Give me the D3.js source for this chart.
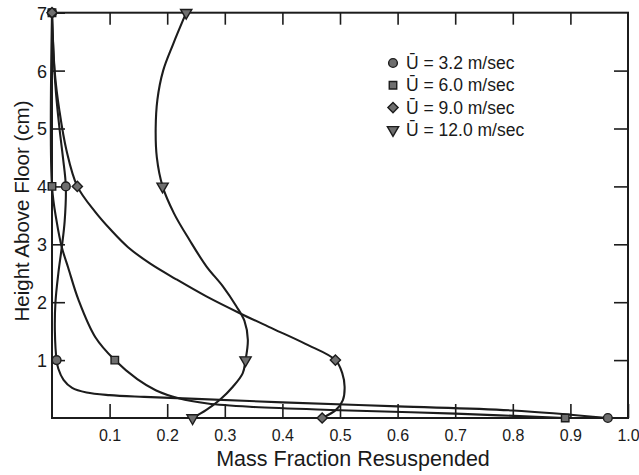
<!DOCTYPE html>
<html>
<head>
<meta charset="utf-8">
<script src="https://cdn.jsdelivr.net/npm/d3@7"></script>
<style>
  html, body { margin: 0; padding: 0; background: #fff; }
  text { font-family: "Liberation Sans", Arial, sans-serif; fill: #1a1a1a; }
</style>
</head>
<body>
<svg id="chart" width="639" height="475"></svg>
<script>
// ---- data ----
const heights = [0, 1, 4, 7];                 // measurement heights (cm)
const u32  = [0.965, 0.008, 0.024, 0.0];      // Ū = 3.2 m/sec
const u60  = [0.891, 0.109, 0.0, 0.0];        // Ū = 6.0 m/sec
const u90  = [0.469, 0.492, 0.044, 0.0];      // Ū = 9.0 m/sec
const u120 = [0.244, 0.336, 0.192, 0.233];    // Ū = 12.0 m/sec

// hand-drawn fitted curves: [mass fraction, height]
const curve32 = [[0.965,0],[0.8,0.13],[0.6,0.2],[0.4,0.27],[0.25,0.33],[0.16,0.365],[0.1,0.395],[0.06,0.44],[0.035,0.52],[0.02,0.66],[0.011,0.85],[0.008,1],[0.005,1.5],[0.006,2.0],[0.011,2.5],[0.017,2.95],[0.022,3.4],[0.024,4],[0.019,4.5],[0.013,5.0],[0.007,5.6],[0.003,6.2],[0.0,7]];
const curve60 = [[0.891,0],[0.7,0.075],[0.5,0.135],[0.35,0.19],[0.27,0.25],[0.22,0.34],[0.18,0.48],[0.148,0.67],[0.109,1],[0.075,1.4],[0.046,2.04],[0.028,2.6],[0.017,2.95],[0.008,3.4],[0.0,4],[0.0,7]];
const curve90 = [[0.469,0],[0.493,0.14],[0.505,0.31],[0.508,0.54],[0.504,0.77],[0.492,1],[0.44,1.28],[0.384,1.54],[0.326,1.81],[0.268,2.1],[0.215,2.4],[0.17,2.67],[0.132,2.95],[0.102,3.25],[0.075,3.56],[0.044,4],[0.025,4.63],[0.013,5.3],[0.005,5.95],[0.0,7]];
const curve120 = [[0.244,0],[0.268,0.14],[0.291,0.31],[0.314,0.54],[0.331,0.77],[0.336,1],[0.34,1.35],[0.334,1.68],[0.32,1.93],[0.297,2.27],[0.268,2.62],[0.239,3.07],[0.212,3.53],[0.192,4],[0.182,4.5],[0.18,5.0],[0.183,5.5],[0.193,6.0],[0.21,6.45],[0.233,7]];

const xTickVals = [0.1,0.2,0.3,0.4,0.5,0.6,0.7,0.8,0.9,1.0];
const xTickLabels = ["0.1","0.2","0.3","0.4","0.5","0.6","0.7","0.8","0.9","1.0"];
const yTickVals = [1,2,3,4,5,6,7];
const legendLabels = ["Ū = 3.2 m/sec","Ū = 6.0 m/sec","Ū = 9.0 m/sec","Ū = 12.0 m/sec"];
const symbols = ["circle","square","diamond","triangle"];
const xTitle = "Mass Fraction Resuspended";
const yTitle = "Height Above Floor (cm)";

// ---- drawing ----
const svg = d3.select("#chart");
const ink = "#1c1c1c", markFill = "#6e6e6e";
const x = d3.scaleLinear().domain([0, 1]).range([52, 628]);
const y = d3.scaleLinear().domain([0, 7]).range([418, 12.7]);

svg.append("rect").attr("width", 639).attr("height", 475).attr("fill", "#fff");

// axes with inward ticks
const gB = svg.append("g").attr("transform", `translate(0,${y(0)})`)
  .call(d3.axisBottom(x).tickValues(xTickVals).tickFormat((d,i) => xTickLabels[i]).tickSizeInner(-14).tickSizeOuter(0).tickPadding(12));
const gL = svg.append("g").attr("transform", `translate(${x(0)},0)`)
  .call(d3.axisLeft(y).tickValues(yTickVals).tickFormat(d3.format("d")).tickSizeInner(-13).tickSizeOuter(0).tickPadding(5));
const gT = svg.append("g").attr("transform", `translate(0,${y(7)})`)
  .call(d3.axisTop(x).tickValues(xTickVals.slice(0, 9)).tickFormat("").tickSizeInner(-12).tickSizeOuter(0));
const gR = svg.append("g").attr("transform", `translate(${x(1)},0)`)
  .call(d3.axisRight(y).tickValues(yTickVals.slice(0, 6)).tickFormat("").tickSizeInner(-14).tickSizeOuter(0));
[gB, gL, gT, gR].forEach(g => {
  g.select(".domain").remove();
  g.selectAll(".tick line").attr("stroke", ink).attr("stroke-width", 1.6);
  g.selectAll("text").attr("fill", ink).attr("font-family", "'Liberation Sans', Arial, sans-serif");
});
gB.selectAll("text").attr("font-size", 16);
gL.selectAll("text").attr("font-size", 18).attr("dy", "0.36em");

// frame
svg.append("rect")
  .attr("x", x(0)).attr("y", y(7)).attr("width", x(1) - x(0)).attr("height", y(0) - y(7))
  .attr("fill", "none").attr("stroke", ink).attr("stroke-width", 2);

// curves
const line = d3.line().x(d => x(d[0])).y(d => y(d[1])).curve(d3.curveCatmullRom.alpha(0.5));
[curve32, curve60, curve90, curve120].forEach(c => {
  svg.append("path").attr("d", line(c)).attr("fill", "none")
    .attr("stroke", ink).attr("stroke-width", 2.1);
});

// markers
const symType = { circle: d3.symbolCircle, square: d3.symbolSquare, diamond: d3.symbolSquare, triangle: d3.symbolTriangle };
const symSize = { circle: 60, square: 56, diamond: 52, triangle: 55 };
const symRot = { circle: 0, square: 0, diamond: 45, triangle: 180 };
function marker(g, s, cx, cy) {
  g.append("path")
    .attr("d", d3.symbol().type(symType[s]).size(symSize[s])())
    .attr("transform", `translate(${cx},${cy}) rotate(${symRot[s]})`)
    .attr("fill", markFill).attr("stroke", ink).attr("stroke-width", 1.4);
}
const seriesVals = [u32, u60, u90, u120];
const gm = svg.append("g");
seriesVals.forEach((vals, si) => {
  vals.forEach((v, i) => marker(gm, symbols[si], x(v), y(heights[i])));
});

// legend
const lg = svg.append("g");
legendLabels.forEach((lab, i) => {
  const cy = 63 + i * 22.3;
  marker(lg, symbols[i], 393, cy);
  lg.append("text").attr("x", 406).attr("y", cy + 6).attr("font-size", 17.5).text(lab);
});

// titles
svg.append("text").attr("x", 353).attr("y", 466).attr("text-anchor", "middle")
  .attr("font-size", 21.5).text(xTitle);
svg.append("text").attr("transform", "translate(29,211) rotate(-90)").attr("text-anchor", "middle")
  .attr("font-size", 20.5).text(yTitle);
</script>
</body>
</html>
